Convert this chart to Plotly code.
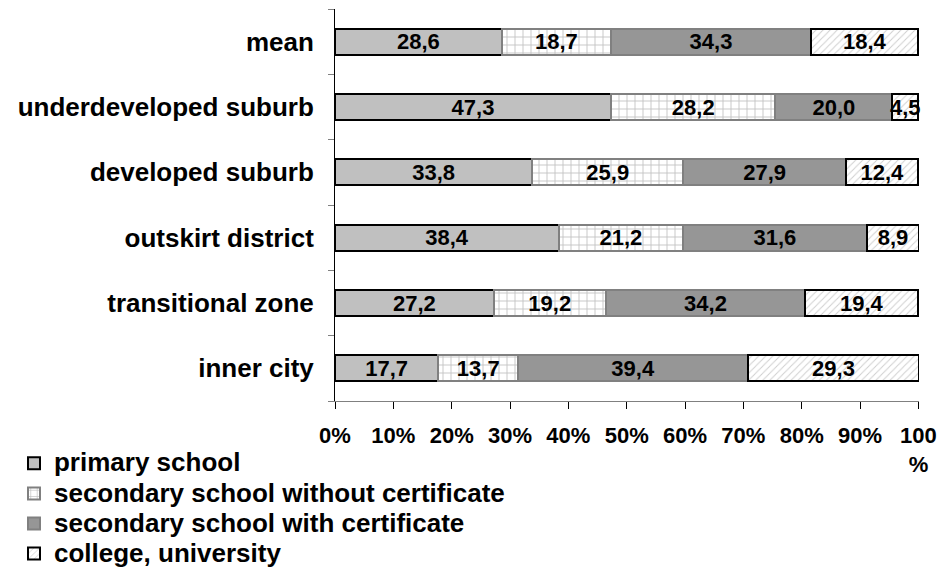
import plotly.graph_objects as go

categories = ["inner city", "transitional zone", "outskirt district",
              "developed suburb", "underdeveloped suburb", "mean"]
primary = [17.7, 27.2, 38.4, 33.8, 47.3, 28.6]
secondary_wo = [13.7, 19.2, 21.2, 25.9, 28.2, 18.7]
secondary_with = [39.4, 34.2, 31.6, 27.9, 20.0, 34.3]
college = [29.3, 19.4, 8.9, 12.4, 4.5, 18.4]
series_names = ["primary school", "secondary school without certificate",
                "secondary school with certificate", "college, university"]
tick_vals = [0, 10, 20, 30, 40, 50, 60, 70, 80, 90, 100]
tick_text = ["0%", "10%", "20%", "30%", "40%", "50%", "60%", "70%", "80%", "90%", "100<br>%"]
grid_vals = [10, 20, 30, 40, 50, 60, 70, 80, 90]

FONT = "Liberation Sans"

def lab(vals):
    return [f"{v:.1f}".replace(".", ",") for v in vals]

styles = [
    dict(color="#c0c0c0", line=dict(color="#000000", width=2)),
    dict(color="#ffffff", line=dict(color="#808080", width=2),
         pattern=dict(shape="+", fgcolor="#808080", bgcolor="#ffffff", size=8, solidity=0.2)),
    dict(color="#969696", line=dict(color="#808080", width=2)),
    dict(color="#ffffff", line=dict(color="#000000", width=2),
         pattern=dict(shape="/", fgcolor="#a0a0a0", bgcolor="#ffffff", size=5, solidity=0.2)),
]

fig = go.Figure()
for name, vals, st in zip(series_names, [primary, secondary_wo, secondary_with, college], styles):
    fig.add_trace(go.Bar(
        y=categories, x=vals, orientation="h", width=0.4,
        name=f'<span style="font-size:26px">{name}</span>',
        marker=st, text=lab(vals), textposition="inside", insidetextanchor="middle",
        textangle=0, textfont=dict(family=FONT, size=22, color="black", weight="bold"),
        hoverinfo="skip", cliponaxis=False,
    ))

fig.update_layout(
    barmode="stack",
    width=941, height=571,
    margin=dict(l=335, r=22, t=9, b=170, autoexpand=False),
    plot_bgcolor="white", paper_bgcolor="white",
    font=dict(family=FONT, color="black", weight="bold"),
    uniformtext=dict(minsize=22, mode="show"),
    showlegend=True,
    legend=dict(x=-0.5497, y=-0.108, xanchor="left", yanchor="top", orientation="v",
                font=dict(family=FONT, size=20.8, color="black", weight="bold"),
                traceorder="normal", tracegroupgap=0, itemwidth=30,
                bgcolor="rgba(0,0,0,0)"),
    xaxis=dict(range=[0, 100.1], tickmode="array", tickvals=tick_vals, ticktext=tick_text,
               showgrid=False, zeroline=False, showline=True, linecolor="#808080", linewidth=1,
               ticks="outside", ticklen=7, tickcolor="#000000", automargin=False, tickangle=0,
               tickfont=dict(family=FONT, size=22, color="black", weight="bold"),
               ticklabelstandoff=8, ticklabeloverflow="allow", fixedrange=True),
    xaxis2=dict(range=[0, 100.1], overlaying="x", matches="x", anchor="y", automargin=False,
                tickmode="array", tickvals=grid_vals,
                showgrid=True, griddash="dash", gridcolor="#000000", gridwidth=1,
                showticklabels=False, ticks="", showline=False, zeroline=False, side="bottom"),
    xaxis3=dict(range=[0, 100.1], overlaying="x", matches="x", anchor="y", automargin=False,
                tickmode="array", tickvals=tick_vals, showgrid=False,
                showticklabels=False, ticks="inside", ticklen=6, tickcolor="#000000",
                showline=False, zeroline=False, side="bottom"),
    yaxis=dict(type="category", categoryorder="array", categoryarray=categories,
               range=[-0.5, 5.5], showline=True, linecolor="#000000", linewidth=1,
               ticks="outside", tickson="boundaries", ticklen=6, tickcolor="#808080",
               showgrid=False, zeroline=False, automargin=False,
               tickfont=dict(family=FONT, size=26, color="black", weight="bold"),
               ticklabelstandoff=15),
)

fig.write_html("out.html", config={"displayModeBar": False},
               post_script="document.body.style.margin='0';document.body.style.overflow='hidden';")
